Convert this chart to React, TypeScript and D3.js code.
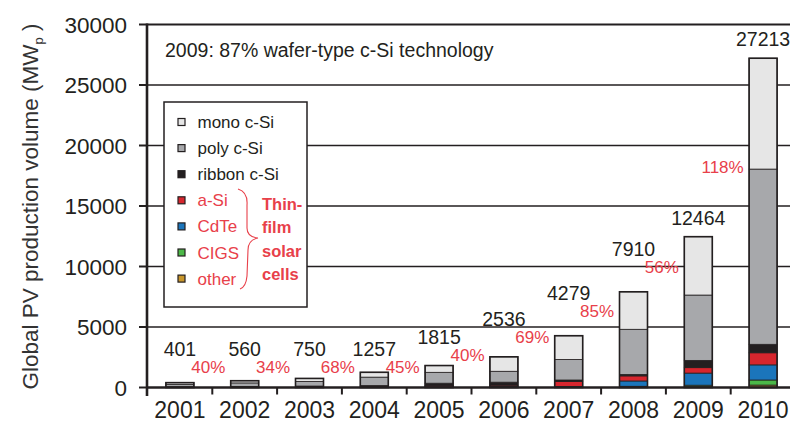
import React, { useEffect, useRef } from 'react';
import * as d3 from 'd3';

const years = ['2001', '2002', '2003', '2004', '2005', '2006', '2007', '2008', '2009', '2010'];
const totals = [401, 560, 750, 1257, 1815, 2536, 4279, 7910, 12464, 27213];
const growth = ['40%', '34%', '68%', '45%', '40%', '69%', '85%', '56%', '118%'];

// MWp per technology
const mono = [140, 180, 250, 400, 560, 1196, 1959, 3100, 4824, 9163];
const poly = [200, 290, 380, 700, 900, 900, 1700, 3730, 5400, 14480];
const ribbon = [15, 20, 40, 50, 180, 250, 130, 120, 600, 700];
const aSi = [35, 50, 60, 75, 110, 100, 400, 420, 450, 1000];
const cdte = [2, 3, 5, 10, 40, 60, 60, 440, 1000, 1250];
const cigs = [1, 2, 5, 5, 5, 10, 20, 60, 130, 420];
const other = [8, 15, 10, 17, 20, 20, 10, 40, 60, 200];

const techNames = ['mono c-Si', 'poly c-Si', 'ribbon c-Si', 'a-Si', 'CdTe', 'CIGS', 'other'];
const techColors = ['#e6e6e6', '#a7a8ab', '#231f20', '#d7262e', '#1b75bb', '#4cb848', '#c8962b'];
const thinFilmWords = ['Thin-', 'film', 'solar', 'cells'];
const yTicks = [0, 5000, 10000, 15000, 20000, 25000, 30000];
const note = '2009: 87% wafer-type c-Si technology';

const INK = '#231f20';
const RED = '#e8404a';
const FONT = "'Liberation Sans', Arial, sans-serif";

export default function App() {
  const ref = useRef<SVGSVGElement>(null);

  useEffect(() => {
    const svg = d3.select(ref.current);
    svg.selectAll('*').remove();
    svg.attr('font-family', FONT);

    const x = d3.scaleBand().domain(years).range([147.5, 795.5]).padding(0);
    const y = d3.scaleLinear().domain([0, 30000]).range([387.5, 24.5]);
    const barW = 28;

    // table for the stack, bottom -> top
    const keys = ['other', 'cigs', 'cdte', 'aSi', 'ribbon', 'poly', 'mono'];
    const series: Record<string, number[]> = { mono, poly, ribbon, aSi, cdte, cigs, other };
    const rows = years.map((yr, i) => {
      const r: any = { year: yr };
      keys.forEach((k) => (r[k] = series[k][i]));
      return r;
    });
    const stacked = d3.stack().keys(keys)(rows);
    const colorOf: Record<string, string> = {
      mono: techColors[0], poly: techColors[1], ribbon: techColors[2],
      aSi: techColors[3], cdte: techColors[4], cigs: techColors[5], other: techColors[6],
    };

    // grid lines
    svg.append('g')
      .selectAll('line')
      .data(yTicks.filter((t) => t > 0))
      .enter()
      .append('line')
      .attr('x1', 147)
      .attr('x2', 790)
      .attr('y1', (d) => y(d))
      .attr('y2', (d) => y(d))
      .attr('stroke', INK)
      .attr('stroke-width', (d) => (d === 30000 ? 2.2 : 1.3));

    // legend box (covers gridlines)
    const lg = svg.append('g');
    lg.append('rect')
      .attr('x', 164).attr('y', 102).attr('width', 143).attr('height', 205)
      .attr('fill', '#fff').attr('stroke', INK).attr('stroke-width', 1.5);
    techNames.forEach((name, i) => {
      const cy = 122 + i * 26.1;
      lg.append('rect')
        .attr('x', 178).attr('y', cy - 3.5).attr('width', 7).attr('height', 7)
        .attr('fill', techColors[i]).attr('stroke', INK).attr('stroke-width', 1.2);
      lg.append('text')
        .attr('x', 197.5).attr('y', cy + 6)
        .attr('font-size', 17)
        .attr('fill', i < 3 ? INK : RED)
        .text(name);
    });
    lg.append('path')
      .attr('d', 'M238,189 Q248,192 247,205 L247,228 Q247,237 258,238 Q248,240 248,250 L247,276 Q246,287 240,289')
      .attr('fill', 'none').attr('stroke', RED).attr('stroke-width', 1.1);
    thinFilmWords.forEach((w, i) => {
      lg.append('text')
        .attr('x', 262).attr('y', 210 + i * 23.4)
        .attr('font-size', 16.5).attr('font-weight', 'bold')
        .attr('fill', RED)
        .text(w);
    });

    // note
    svg.append('text')
      .attr('x', 165).attr('y', 57)
      .attr('font-size', 19.5).attr('fill', INK)
      .text(note);

    // stacked bars
    const bars = svg.append('g');
    stacked.forEach((layer) => {
      bars.append('g')
        .selectAll('rect')
        .data(layer)
        .enter()
        .append('rect')
        .attr('x', (d: any) => (x(d.data.year) as number) + (x.bandwidth() - barW) / 2)
        .attr('y', (d) => y(d[1]))
        .attr('width', barW)
        .attr('height', (d) => Math.max(0, y(d[0]) - y(d[1])))
        .attr('fill', colorOf[layer.key])
        .attr('stroke', INK)
        .attr('stroke-width', 0.8);
    });
    bars.append('g')
      .selectAll('rect')
      .data(years)
      .enter()
      .append('rect')
      .attr('x', (d) => (x(d) as number) + (x.bandwidth() - barW) / 2)
      .attr('y', (d, i) => y(totals[i]))
      .attr('width', barW)
      .attr('height', (d, i) => y(0) - y(totals[i]))
      .attr('fill', 'none')
      .attr('stroke', INK)
      .attr('stroke-width', 1.6);

    // total labels
    const labelY = (i: number) => {
      const top = y(totals[i]);
      const h = y(0) - top;
      const off = totals[i] > 10000 ? 12 : Math.min(36, h);
      return Math.min(356, top - off);
    };
    svg.append('g')
      .selectAll('text')
      .data(years)
      .enter()
      .append('text')
      .attr('x', (d) => (x(d) as number) + x.bandwidth() / 2)
      .attr('y', (d, i) => labelY(i))
      .attr('text-anchor', 'middle')
      .attr('font-size', 19.5)
      .attr('fill', INK)
      .text((d, i) => String(totals[i]));

    // growth labels
    const lastPolyTop = stacked[stacked.length - 2][years.length - 1][1];
    svg.append('g')
      .selectAll('text')
      .data(growth)
      .enter()
      .append('text')
      .attr('x', (d, i) => (x(years[i + 1]) as number) + 13)
      .attr('y', (d, i) => (i === growth.length - 1 ? y(lastPolyTop) + 4 : labelY(i) + 17))
      .attr('text-anchor', 'end')
      .attr('font-size', 17)
      .attr('fill', RED)
      .text((d) => d);

    // y axis
    const yAxis = svg.append('g');
    yAxis.append('line')
      .attr('x1', 147).attr('x2', 147).attr('y1', 23.5).attr('y2', 396)
      .attr('stroke', INK).attr('stroke-width', 2.6);
    yTicks.forEach((t) => {
      yAxis.append('line')
        .attr('x1', 139).attr('x2', 147).attr('y1', y(t)).attr('y2', y(t))
        .attr('stroke', INK).attr('stroke-width', 2);
      yAxis.append('text')
        .attr('x', 127).attr('y', y(t) + 8)
        .attr('text-anchor', 'end')
        .attr('font-size', 22.5)
        .attr('fill', INK)
        .text(String(t));
    });

    // x axis
    const xAxis = svg.append('g');
    xAxis.append('line')
      .attr('x1', 147).attr('x2', 790).attr('y1', y(0)).attr('y2', y(0))
      .attr('stroke', INK).attr('stroke-width', 2.6);
    years.slice(1).forEach((yr) => {
      const bx = x(yr) as number;
      xAxis.append('line')
        .attr('x1', bx).attr('x2', bx).attr('y1', y(0)).attr('y2', y(0) + 7)
        .attr('stroke', INK).attr('stroke-width', 2);
    });
    xAxis.selectAll('text.yr')
      .data(years)
      .enter()
      .append('text')
      .attr('class', 'yr')
      .attr('x', (d) => (x(d) as number) + x.bandwidth() / 2)
      .attr('y', 418)
      .attr('text-anchor', 'middle')
      .attr('font-size', 23)
      .attr('fill', INK)
      .text((d) => d);

    // y title
    const title = svg.append('text')
      .attr('transform', 'translate(38,206.5) rotate(-90)')
      .attr('text-anchor', 'middle')
      .attr('font-size', 22.5)
      .attr('fill', '#333');
    title.append('tspan').text('Global PV production volume (MW');
    title.append('tspan').attr('font-size', 13).attr('dy', 5).text('p');
    title.append('tspan').attr('dy', -5).text(' )');
  }, []);

  return (
    <svg
      ref={ref}
      width={790}
      height={424}
      style={{ position: 'absolute', left: 0, top: 0, background: '#fff' }}
    />
  );
}
